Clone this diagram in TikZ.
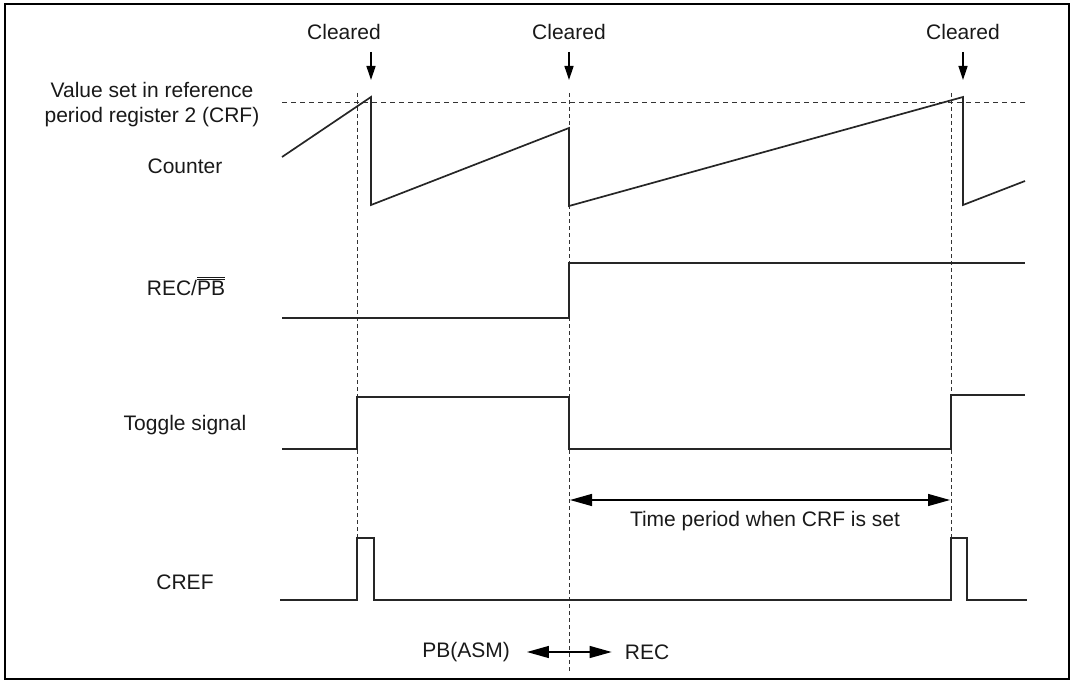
\documentclass[tikz,border=0pt]{standalone}
\usepackage{fontspec}
\setmainfont{Liberation Sans}
\usetikzlibrary{arrows.meta}

\begin{document}
\begin{tikzpicture}[x=1pt,y=-1pt,font=\fontsize{21}{25}\selectfont,
  sig/.style={line width=1.7pt,black!85},
  guide/.style={line width=.9pt,dash pattern=on 4pt off 3pt,black!80},
  clrarrow/.style={line width=1.3pt,-{Triangle[length=14pt,width=9pt]}},
  spanarrow/.style={line width=1.3pt,{Triangle[length=22pt,width=12pt]}-{Triangle[length=22pt,width=12pt]}},
  lbl/.style={inner sep=0pt,text=black!90}]
\useasboundingbox (0,0) rectangle (1073,682);
\draw[line width=2pt] (5,4) rectangle (1069,679);
% reference level and guides
\draw[guide,dash pattern=on 5pt off 4pt] (282,102)--(1025,102);
\foreach \x/\yb in {357/538,569/673,951/538}{\draw[guide] (\x,93)--(\x,\yb);}
% counter
\draw[sig] (282,157)--(371,97)--(371,205)--(569,128)--(569,206)--(963,97)--(963,205)--(1025,181);
% REC/PB
\draw[sig] (282,318)--(569,318)--(569,263)--(1025,263);
% toggle signal
\draw[sig] (282,449)--(357,449)--(357,397)--(569,397)--(569,449)--(951,449)--(951,395)--(1025,395);
% CREF
\draw[sig] (280,600)--(357,600)--(357,538)--(374,538)--(374,600)--(951,600)--(951,538)--(967,538)--(967,600)--(1027,600);
% cleared marks
\foreach \n/\x/\tx in {a/371/344,b/569/569,c/963/963}{
  \node[lbl] (clr\n) at (\tx,32) {Cleared};
  \coordinate (clrtop\n) at (\x,52);
  \coordinate (clrtip\n) at (\x,80);
  \draw[clrarrow] (clrtop\n)--(clrtip\n);}
% signal names
\node[lbl,align=center] (crf) at (152,104.5) {Value set in reference\\period register 2 (CRF)};
\node[lbl] (cnt) at (185,166) {Counter};
\node[lbl] (recpb) at (186,286) {REC/$\overline{\overline{\mbox{PB}}}$};
\node[lbl] (tgl) at (185,425) {Toggle signal};
\node[lbl] (cref) at (185,582) {CREF};
% time period
\coordinate (tpa) at (570,500);
\coordinate (tpb) at (950,500);
\draw[spanarrow] (tpa)--(tpb);
\node[lbl] (tp) at (765,521) {Time period when CRF is set};
% mode
\node[lbl] (pb) at (466,652) {PB(ASM)};
\node[lbl] (rec) at (647,652) {REC};
\draw[spanarrow] ([xshift=17pt]pb.east)--([xshift=-13pt]rec.west);
\end{tikzpicture}
\end{document}
